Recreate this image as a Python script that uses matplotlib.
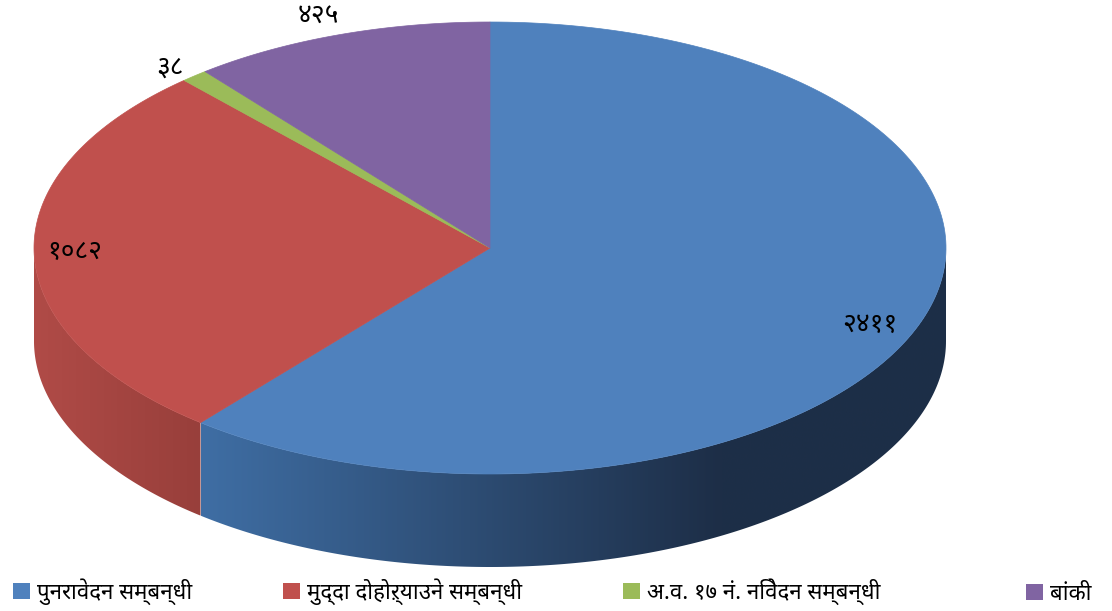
import numpy as np
import matplotlib
matplotlib.use("Agg")
import matplotlib.pyplot as plt
from matplotlib.patches import Polygon, Patch

plt.rcParams['font.family'] = ['Noto Sans Devanagari', 'DejaVu Sans']

# data
labels = ['पुनरावेदन सम्बन्धी', 'मुद्दा दोहोऱ्याउने सम्बन्धी', 'अ.व. १७ नं. निवेदन सम्बन्धी', 'बांकी']
values = [2411, 1082, 38, 425]
value_text = ['२४११', '१०८२', '३८', '४२५']
colors = ['#4f81bd', '#c0504d', '#9bbb59', '#8064a2']
side_left = ['#3f6ea4', '#b04b47', '#8aa84f', '#6f5790']
side_right = ['#1d2e47', '#983f3b', '#6f8a3e', '#5a4676']

# pie geometry in pixels
cx, cy = 490, 248
rx, ry = 456, 226
depth = 93

fig = plt.figure(figsize=(11.12, 6.11), dpi=100)
ax = fig.add_axes([0, 0, 1, 1])
ax.axis('off')


def pt(a, dy=0):
    return cx + rx * np.cos(a), cy - ry * np.sin(a) + dy


def mix(c1, c2, t):
    a = np.array(matplotlib.colors.to_rgb(c1))
    b = np.array(matplotlib.colors.to_rgb(c2))
    return a + (b - a) * t[:, None]


total = sum(values)
ends = 90 - np.cumsum(values) / total * 360
starts = np.r_[90, ends[:-1]]

# side walls, only the front half (-180..0 deg) shows
for i in range(len(values)):
    lo, hi = max(ends[i], -180), min(starts[i], 0)
    if hi <= lo:
        continue
    angs = np.radians(np.linspace(lo, hi, 200))
    xs, ys = pt(angs)
    outline = list(zip(xs, ys)) + list(zip(xs[::-1], ys[::-1] + depth))
    wall = Polygon(outline, closed=True, facecolor='none', edgecolor='none')
    ax.add_patch(wall)
    x_min, x_max = xs.min(), xs.max()
    span = 520 if i == 0 else (x_max - x_min)
    gx = np.linspace(x_min, x_max, 400)
    grad = mix(side_left[i], side_right[i], np.clip((gx - x_min) / span, 0, 1))
    im = ax.imshow(grad[None, :, :], extent=(x_min, x_max, ys.max() + depth, ys.min()),
                   aspect='auto', interpolation='bilinear')
    im.set_clip_path(wall)

# top face
for i in range(len(values)):
    angs = np.radians(np.linspace(starts[i], ends[i], 200))
    xs, ys = pt(angs)
    poly = [(cx, cy)] + list(zip(xs, ys))
    ax.add_patch(Polygon(poly, closed=True, facecolor=colors[i], edgecolor=colors[i], linewidth=0.5))

ax.set_xlim(0, 1112)
ax.set_ylim(611, 0)

# value labels
label_pos = [(870, 325), (75, 252), (170, 68), (318, 17)]
for (x, y), s in zip(label_pos, value_text):
    ax.text(x, y, s, fontsize=19, ha='center', va='center', color='black')

# legend, one entry per slot
legend_x = [0, 270, 610, 1013]
for x, lab, c in zip(legend_x, labels, colors):
    fig.legend([Patch(facecolor=c, edgecolor='none')], [lab], loc='lower left',
               bbox_to_anchor=(x / 1112, -0.012), frameon=False, fontsize=16,
               handlelength=0.75, handleheight=0.75, handletextpad=0.3,
               borderaxespad=0.2)

fig.savefig("out.png", dpi=100)
